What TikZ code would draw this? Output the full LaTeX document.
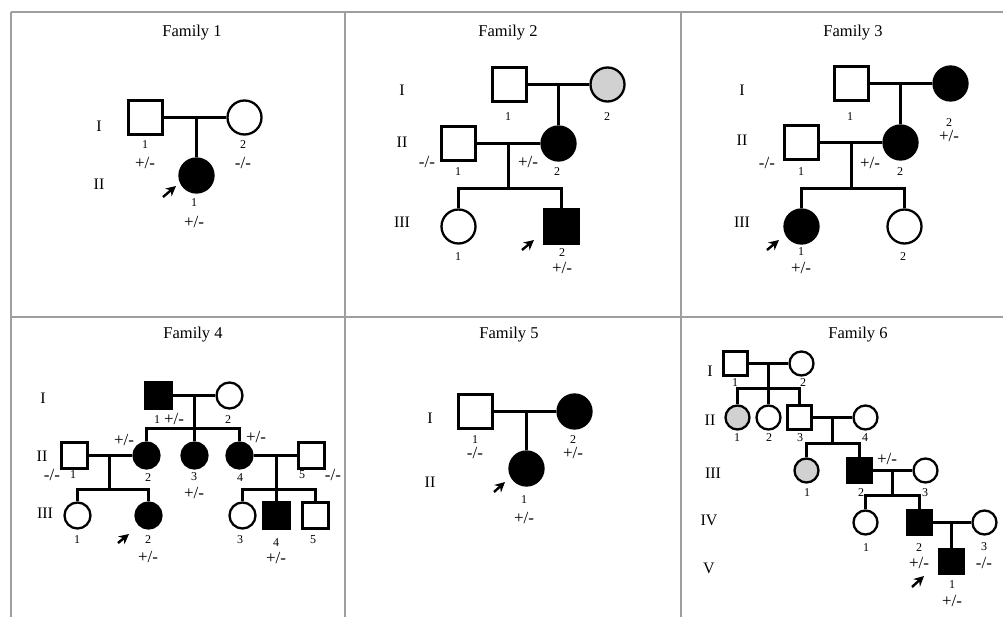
\documentclass[tikz,border=0pt]{standalone}
\usepackage{fontspec}
\setmainfont{Liberation Serif}
\usetikzlibrary{arrows.meta}
\definecolor{rulegray}{gray}{0.62}
\definecolor{carriergray}{gray}{0.82}
\tikzset{
  male/.style={draw,rectangle,minimum size=#1,inner sep=0pt,line width=2.3pt},
  female/.style={draw,circle,minimum size=#1,inner sep=0pt,line width=2.3pt},
  aff/.style={fill=black},
  carrier/.style={fill=carriergray},
  link/.style={line width=2.1pt},
  num/.style={inner sep=0pt,font=\fontsize{12}{13}\selectfont},
  geno/.style={inner sep=0pt,font=\fontsize{17}{18}\selectfont},
  gen/.style={inner sep=0pt,font=\fontsize{16}{17}\selectfont},
  famtitle/.style={inner sep=0pt,font=\fontsize{16.5}{18}\selectfont},
  proband/.style={-{Stealth[length=10pt,width=10pt]},line width=2.4pt},
  panel/.style={draw=rulegray,line width=1.2pt}
}
\begin{document}
\begin{tikzpicture}[x=1pt,y=-1pt]
  \useasboundingbox (0,0) rectangle (1003,617);
  %% NOTE: panel grid
  \coordinate (tl) at (11,12);
  \coordinate (tr) at (1003,12);
  \coordinate (ml) at (11,317);
  \coordinate (mr) at (1003,317);
  \draw[panel] (tl) -- (tr);
  \draw[panel] (ml) -- (mr);
  \draw[panel] (tl) -- (11,617);
  \draw[panel] (345,12) -- (345,617);
  \draw[panel] (681,12) -- (681,617);

  %% Family 1
  \node[famtitle] (t1) at (192,33) {Family 1};
  \node[gen] (f1g1) at (99,126) {I};
  \node[gen] (f1g2) at (99,184) {II};
  \node[male=34pt] (f1a) at (145.5,117.5) {};
  \node[female=34pt] (f1b) at (244.5,117.5) {};
  \node[female=34pt,aff] (f1c) at (196.5,175.5) {};
  \draw[link] (f1a) -- (f1b);
  \draw[link] (f1c.north) -- (f1c |- f1a);
  \node[num] (f1n1) at (145,145) {1};
  \node[geno] (f1p1) at (145,163) {+/-};
  \node[num] (f1n2) at (243,145) {2};
  \node[geno] (f1p2) at (243,163) {-/-};
  \node[num] (f1n3) at (194,203) {1};
  \node[geno] (f1p3) at (194,222) {+/-};
  \coordinate (f1arr) at (163,197);
  \draw[proband] (f1arr) -- ++(13,-11);

  %% Family 2
  \node[famtitle] (t2) at (508,33) {Family 2};
  \node[gen] (f2g1) at (402,90) {I};
  \node[gen] (f2g2) at (402,142) {II};
  \node[gen] (f2g3) at (402,222) {III};
  \node[male=34pt] (f2a) at (509.5,84.5) {};
  \node[female=34pt,carrier] (f2b) at (607.5,84.5) {};
  \node[male=34pt] (f2c) at (458.5,143.5) {};
  \node[female=34pt,aff] (f2d) at (558.5,143.5) {};
  \node[female=34pt] (f2e) at (458.5,226.5) {};
  \node[male=34pt,aff] (f2f) at (561.5,226.5) {};
  \draw[link] (f2a) -- (f2b);
  \draw[link] (f2d.north) -- (f2d |- f2a);
  \draw[link] (f2c) -- (f2d);
  \coordinate (f2s) at (508.5,188.5);
  \draw[link] (f2s) -- (f2s |- f2c);
  \draw[link] (f2e.north) -- (f2e |- f2s) -- (f2f |- f2s) -- (f2f.north);
  \node[num] (f2n1) at (508,117) {1};
  \node[num] (f2n2) at (607,117) {2};
  \node[geno] (f2p3) at (427,162) {-/-};
  \node[num] (f2n3) at (458,172) {1};
  \node[geno] (f2p4) at (528,162) {+/-};
  \node[num] (f2n4) at (557,172) {2};
  \node[num] (f2n5) at (458,257) {1};
  \node[num] (f2n6) at (562,253) {2};
  \node[geno] (f2p6) at (562,268) {+/-};
  \coordinate (f2arr) at (522,250);
  \draw[proband] (f2arr) -- ++(12,-10);

  %% Family 3
  \node[famtitle] (t3) at (853,33) {Family 3};
  \node[gen] (f3g1) at (742,90) {I};
  \node[gen] (f3g2) at (742,140) {II};
  \node[gen] (f3g3) at (742,222) {III};
  \node[male=34pt] (f3a) at (851.5,83.5) {};
  \node[female=34pt,aff] (f3b) at (950.5,83.5) {};
  \node[male=34pt] (f3c) at (801.5,142.5) {};
  \node[female=34pt,aff] (f3d) at (900.5,142.5) {};
  \node[female=34pt,aff] (f3e) at (801.5,226.5) {};
  \node[female=34pt] (f3f) at (904.5,226.5) {};
  \draw[link] (f3a) -- (f3b);
  \draw[link] (f3d.north) -- (f3d |- f3a);
  \draw[link] (f3c) -- (f3d);
  \coordinate (f3s) at (851.5,188.5);
  \draw[link] (f3s) -- (f3s |- f3c);
  \draw[link] (f3e.north) -- (f3e |- f3s) -- (f3f |- f3s) -- (f3f.north);
  \node[num] (f3n1) at (850,117) {1};
  \node[num] (f3n2) at (949,123) {2};
  \node[geno] (f3p2) at (949,136) {+/-};
  \node[geno] (f3p3) at (767,163) {-/-};
  \node[num] (f3n3) at (801,172) {1};
  \node[geno] (f3p4) at (870,163) {+/-};
  \node[num] (f3n4) at (900,172) {2};
  \node[num] (f3n5) at (801,252) {1};
  \node[geno] (f3p5) at (801,268) {+/-};
  \node[num] (f3n6) at (903,257) {2};
  \coordinate (f3arr) at (767,250);
  \draw[proband] (f3arr) -- ++(12,-10);

  %% Family 4
  \node[famtitle] (t4) at (193,335) {Family 4};
  \node[gen] (f4g1) at (43,398) {I};
  \node[gen] (f4g2) at (42,456) {II};
  \node[gen] (f4g3) at (45,513) {III};
  \node[male=26pt,aff] (f4a) at (158.5,395.5) {};
  \node[female=26pt] (f4b) at (229.5,395.5) {};
  \node[male=26pt] (f4c) at (74.5,455.5) {};
  \node[female=26pt,aff] (f4d) at (146.5,455.5) {};
  \node[female=26pt,aff] (f4e) at (194.5,455.5) {};
  \node[female=26pt,aff] (f4f) at (239.5,455.5) {};
  \node[male=26pt] (f4g) at (311.5,455.5) {};
  \node[female=26pt] (f4h) at (77.5,515.5) {};
  \node[female=26pt,aff] (f4i) at (148.5,515.5) {};
  \node[female=26pt] (f4j) at (242.5,515.5) {};
  \node[male=26pt,aff] (f4k) at (276.5,515.5) {};
  \node[male=26pt] (f4l) at (315.5,515.5) {};
  \draw[link] (f4a) -- (f4b);
  \draw[link] (f4e.north) -- (f4e |- f4a);
  \coordinate (f4s1) at (194.5,428.5);
  \draw[link] (f4d.north) -- (f4d |- f4s1) -- (f4f |- f4s1) -- (f4f.north);
  \draw[link] (f4c) -- (f4d);
  \coordinate (f4s2) at (109.5,489.5);
  \draw[link] (f4s2) -- (f4s2 |- f4c);
  \draw[link] (f4h.north) -- (f4h |- f4s2) -- (f4i |- f4s2) -- (f4i.north);
  \draw[link] (f4f) -- (f4g);
  \coordinate (f4s3) at (276.5,489.5);
  \draw[link] (f4k.north) -- (f4k |- f4f);
  \draw[link] (f4j.north) -- (f4j |- f4s3) -- (f4l |- f4s3) -- (f4l.north);
  \node[num] (f4n1) at (157,420) {1};
  \node[geno] (f4p1) at (174,419) {+/-};
  \node[num] (f4n2) at (228,420) {2};
  \node[geno] (f4p4) at (124,440) {+/-};
  \node[geno] (f4p6) at (256,437) {+/-};
  \node[geno] (f4p3) at (52,475) {-/-};
  \node[num] (f4n3) at (73,475) {1};
  \node[num] (f4n4) at (148,478) {2};
  \node[num] (f4n5) at (194,477) {3};
  \node[geno] (f4p5) at (194,493) {+/-};
  \node[num] (f4n6) at (240,478) {4};
  \node[num] (f4n7) at (302,475) {5};
  \node[geno] (f4p7) at (333,475) {-/-};
  \node[num] (f4n8) at (77,540) {1};
  \node[num] (f4n9) at (148,540) {2};
  \node[geno] (f4p9) at (148,557) {+/-};
  \node[num] (f4n10) at (240,540) {3};
  \node[num] (f4n11) at (276,543) {4};
  \node[geno] (f4p11) at (276,558) {+/-};
  \node[num] (f4n12) at (313,540) {5};
  \coordinate (f4arr) at (118,543);
  \draw[proband] (f4arr) -- ++(11,-9);

  %% Family 5
  \node[famtitle] (t5) at (509,335) {Family 5};
  \node[gen] (f5g1) at (430,418) {I};
  \node[gen] (f5g2) at (430,482) {II};
  \node[male=34pt] (f5a) at (475.5,411.5) {};
  \node[female=34pt,aff] (f5b) at (574.5,411.5) {};
  \node[female=34pt,aff] (f5c) at (526.5,468.5) {};
  \draw[link] (f5a) -- (f5b);
  \draw[link] (f5c.north) -- (f5c |- f5a);
  \node[num] (f5n1) at (475,440) {1};
  \node[geno] (f5p1) at (475,453) {-/-};
  \node[num] (f5n2) at (573,440) {2};
  \node[geno] (f5p2) at (573,453) {+/-};
  \node[num] (f5n3) at (524,500) {1};
  \node[geno] (f5p3) at (524,518) {+/-};
  \coordinate (f5arr) at (494,492);
  \draw[proband] (f5arr) -- ++(11,-10);

  %% Family 6
  \node[famtitle] (t6) at (858,335) {Family 6};
  \node[gen] (f6g1) at (710,371) {I};
  \node[gen] (f6g2) at (710,420) {II};
  \node[gen] (f6g3) at (713,473) {III};
  \node[gen] (f6g4) at (709,520) {IV};
  \node[gen] (f6g5) at (709,568) {V};
  \node[male=24pt] (f6a) at (735.5,363.5) {};
  \node[female=24pt] (f6b) at (801.5,363.5) {};
  \node[female=24pt,carrier] (f6c) at (737.5,417.5) {};
  \node[female=24pt] (f6d) at (768.5,417.5) {};
  \node[male=24pt] (f6e) at (799.5,417.5) {};
  \node[female=24pt] (f6f) at (865.5,417.5) {};
  \node[female=24pt,carrier] (f6g) at (806.5,470.5) {};
  \node[male=24pt,aff] (f6h) at (859.5,470.5) {};
  \node[female=24pt] (f6i) at (925.5,470.5) {};
  \node[female=24pt] (f6j) at (865.5,522.5) {};
  \node[male=24pt,aff] (f6k) at (919.5,522.5) {};
  \node[female=24pt] (f6l) at (984.5,522.5) {};
  \node[male=24pt,aff] (f6m) at (951.5,561.5) {};
  \draw[link] (f6a) -- (f6b);
  \coordinate (f6s1) at (768.5,388.5);
  \draw[link] (f6d.north) -- (f6d |- f6a);
  \draw[link] (f6c.north) -- (f6c |- f6s1) -- (f6e |- f6s1) -- (f6e.north);
  \draw[link] (f6e) -- (f6f);
  \coordinate (f6s2) at (832.5,443.5);
  \draw[link] (f6s2) -- (f6s2 |- f6e);
  \draw[link] (f6g.north) -- (f6g |- f6s2) -- (f6h |- f6s2) -- (f6h.north);
  \draw[link] (f6h) -- (f6i);
  \coordinate (f6s3) at (892.5,495.5);
  \draw[link] (f6s3) -- (f6s3 |- f6h);
  \draw[link] (f6j.north) -- (f6j |- f6s3) -- (f6k |- f6s3) -- (f6k.north);
  \draw[link] (f6k) -- (f6l);
  \draw[link] (f6m.north) -- (f6m |- f6k);
  \node[num] (f6n1) at (735,383) {1};
  \node[num] (f6n2) at (803,383) {2};
  \node[num] (f6n3) at (737,438) {1};
  \node[num] (f6n4) at (769,438) {2};
  \node[num] (f6n5) at (800,438) {3};
  \node[num] (f6n6) at (865,438) {4};
  \node[geno] (f6p8) at (887,459) {+/-};
  \node[num] (f6n7) at (807,493) {1};
  \node[num] (f6n8) at (861,493) {2};
  \node[num] (f6n9) at (925,493) {3};
  \node[num] (f6n10) at (866,548) {1};
  \node[num] (f6n11) at (919,548) {2};
  \node[geno] (f6p11) at (919,563) {+/-};
  \node[num] (f6n12) at (984,547) {3};
  \node[geno] (f6p12) at (984,563) {-/-};
  \node[num] (f6n13) at (952,585) {1};
  \node[geno] (f6p13) at (952,601) {+/-};
  \coordinate (f6arr) at (912,587);
  \draw[proband] (f6arr) -- ++(12,-11);
\end{tikzpicture}
\end{document}
